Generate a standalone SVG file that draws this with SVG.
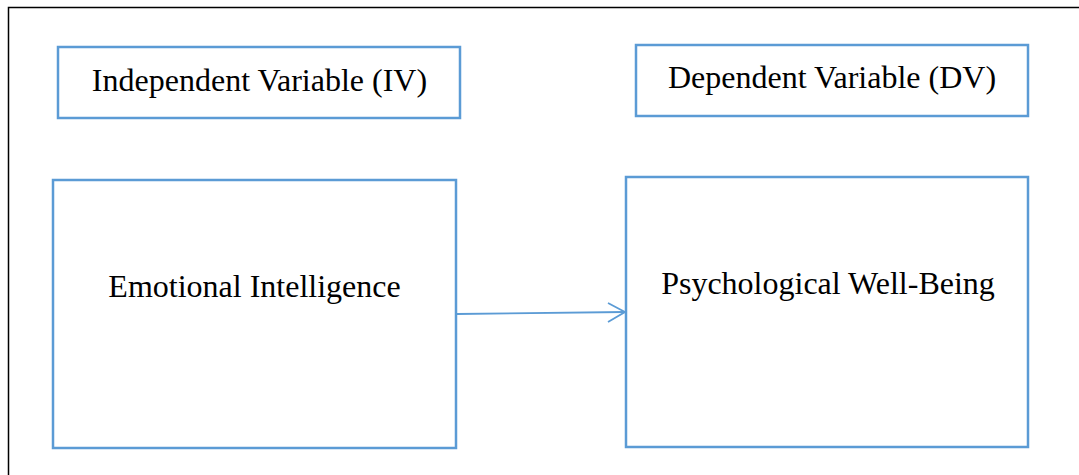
<svg xmlns="http://www.w3.org/2000/svg" width="1079" height="475" viewBox="0 0 1079 475">
<style>
.box{fill:#fff;stroke:#5B9BD5;stroke-width:2.5}
.t{font-family:"Liberation Serif","Times New Roman",serif;font-size:32px;fill:#000;text-anchor:middle}
.c{stroke:#5B9BD5;stroke-width:1.8;fill:none}
</style>
<rect x="0" y="0" width="1079" height="475" fill="#fff"/>
<path d="M8.5 476 V7.5 H1080" fill="none" stroke="#000" stroke-width="1.5"/>
<g id="iv">
<rect class="box" x="58" y="47" width="402" height="71"/>
<text class="t" x="259.5" y="91">Independent Variable (IV)</text>
</g>
<g id="dv">
<rect class="box" x="636" y="45" width="392" height="71"/>
<text class="t" x="832" y="88">Dependent Variable (DV)</text>
</g>
<g id="ei">
<rect class="box" x="53" y="180" width="403" height="268"/>
<text class="t" x="254.5" y="297">Emotional Intelligence</text>
</g>
<g id="pwb">
<rect class="box" x="626" y="177" width="402" height="270"/>
<text class="t" x="828" y="294">Psychological Well-Being</text>
</g>
<g id="connectors">
<path class="c" d="M457 314 L625 312"/>
<path class="c" d="M608 303 L625 312 L608 322"/>
</g>
</svg>
